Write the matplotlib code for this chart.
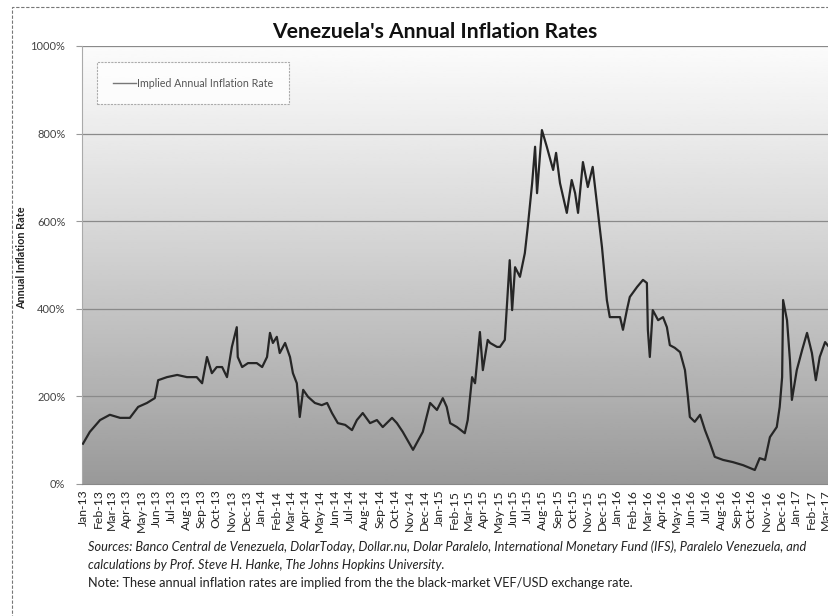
import numpy as np
import pandas as pd
import matplotlib
matplotlib.use("Agg")
import matplotlib.pyplot as plt
import matplotlib.dates as mdates
from matplotlib.patches import Rectangle
from matplotlib.ticker import FuncFormatter, FixedLocator

dates = [
    "2013-01-01", "2013-01-15", "2013-02-05", "2013-02-25", "2013-03-18", "2013-04-07",
    "2013-04-24", "2013-05-12", "2013-05-28", "2013-06-04", "2013-06-22", "2013-07-13",
    "2013-08-02", "2013-08-22", "2013-09-02", "2013-09-12", "2013-09-22", "2013-10-02",
    "2013-10-13", "2013-10-23", "2013-11-02", "2013-11-12", "2013-11-14", "2013-11-23",
    "2013-12-05", "2013-12-23", "2014-01-03", "2014-01-13", "2014-01-19", "2014-01-25",
    "2014-02-02", "2014-02-08", "2014-02-19", "2014-03-01", "2014-03-07", "2014-03-15",
    "2014-03-21", "2014-03-28", "2014-04-07", "2014-04-21", "2014-05-05", "2014-05-16",
    "2014-05-26", "2014-06-07", "2014-06-22", "2014-07-06", "2014-07-16", "2014-07-28",
    "2014-08-12", "2014-08-26", "2014-09-07", "2014-09-26", "2014-10-06", "2014-10-18",
    "2014-11-08", "2014-11-22", "2014-11-28", "2014-12-13", "2014-12-27", "2015-01-08",
    "2015-01-16", "2015-01-23", "2015-02-06", "2015-02-22", "2015-02-28", "2015-03-09",
    "2015-03-15", "2015-03-25", "2015-03-31", "2015-04-10", "2015-04-15", "2015-04-29",
    "2015-05-05", "2015-05-15", "2015-05-25", "2015-05-30", "2015-06-05", "2015-06-15",
    "2015-06-25", "2015-07-01", "2015-07-10", "2015-07-16", "2015-07-20", "2015-07-30",
    "2015-08-09", "2015-08-22", "2015-08-28", "2015-09-05", "2015-09-19", "2015-09-29",
    "2015-10-06", "2015-10-12", "2015-10-22", "2015-11-01", "2015-11-11", "2015-11-22",
    "2015-11-30", "2015-12-10", "2015-12-16", "2015-12-31", "2016-01-06", "2016-01-12",
    "2016-01-20", "2016-01-26", "2016-02-10", "2016-02-22", "2016-03-01", "2016-03-03",
    "2016-03-07", "2016-03-13", "2016-03-24", "2016-04-03", "2016-04-11", "2016-04-17",
    "2016-04-27", "2016-05-08", "2016-05-18", "2016-05-24", "2016-05-28", "2016-06-07",
    "2016-06-18", "2016-06-28", "2016-07-08", "2016-07-18", "2016-08-04", "2016-08-24",
    "2016-09-14", "2016-10-08", "2016-10-18", "2016-10-29", "2016-11-08", "2016-11-22",
    "2016-11-28", "2016-12-03", "2016-12-05", "2016-12-13", "2016-12-19", "2016-12-23",
    "2017-01-02", "2017-01-13", "2017-01-23", "2017-02-02", "2017-02-10", "2017-02-18",
    "2017-03-01", "2017-03-09",
]
inflation = [
    92, 119, 146, 158, 151, 151,
    176, 185, 196, 237, 244, 249,
    244, 244, 230, 290, 253, 267,
    267, 244, 313, 358, 290, 267,
    276, 276, 267, 290, 345, 322,
    336, 299, 322, 290, 253, 230,
    153, 215, 199, 185, 180, 185,
    162, 139, 135, 123, 146, 162,
    139, 146, 130, 151, 139, 119,
    78, 107, 119, 185, 169, 196,
    176, 139, 130, 116, 146, 244,
    230, 347, 260, 329, 322, 313,
    313, 329, 511, 397, 495, 473,
    527, 587, 687, 770, 664, 808,
    770, 717, 756, 687, 619, 694,
    664, 619, 735, 678, 724, 619,
    541, 420, 381, 381, 381, 352,
    397, 427, 450, 466, 459, 352,
    290, 397, 374, 381, 358, 317,
    311, 301, 260, 199, 153, 142,
    158, 123, 94, 62, 55, 50,
    43, 32, 59, 55, 107, 130,
    176, 244, 420, 374, 283, 192,
    260, 306, 345, 299, 237, 290,
    324, 313,
]
series_label = "Implied Annual Inflation Rate"
title = "Venezuela's Annual Inflation Rates"
ylabel = "Annual Inflation Rate"
yticks = [0, 200, 400, 600, 800, 1000]
source_lines = [
    "Sources: Banco Central de Venezuela, DolarToday, Dollar.nu, Dolar Paralelo, International Monetary Fund (IFS), Paralelo Venezuela, and",
    "calculations by Prof. Steve H. Hanke, The Johns Hopkins University.",
]
note_line = "Note: These annual inflation rates are implied from the the black-market VEF/USD exchange rate."

plt.rcParams['font.family'] = ['Lato', 'DejaVu Sans']

W, H = 829, 616
fig = plt.figure(figsize=(W / 100, H / 100), dpi=100)
fig.patch.set_facecolor("white")

# outer dashed frame
fig.patches.append(Rectangle((12 / W, -0.05), 1.1, 1 - 7 / H + 0.05, transform=fig.transFigure,
                             fill=False, ec="#777777", lw=0.8, ls=(0, (3, 1.5))))

ax = fig.add_axes([82 / W, 1 - 484 / H, (W - 82) / W, (484 - 46) / H])
x = pd.to_datetime(dates)
xmin = pd.Timestamp("2012-12-30")
xmax = pd.Timestamp("2017-03-09")
ax.set_xlim(xmin, xmax)
ax.set_ylim(0, 1000)

# background gradient (light at top, darker at bottom)
grad = np.interp(np.linspace(0, 1, 200), [0, 0.2, 0.4, 0.6, 0.8, 1.0],
                 [0.60, 0.69, 0.77, 0.85, 0.92, 0.985])[:, None]
ax.imshow(grad, extent=[mdates.date2num(xmin), mdates.date2num(xmax), 0, 1000],
          aspect="auto", origin="lower", cmap="gray", vmin=0, vmax=1, zorder=0)

for v in yticks[1:]:
    ax.axhline(v, color="#8a8a8a", lw=0.9, zorder=1)

ax.plot(x, inflation, color="#262626", lw=1.6, zorder=3, label=series_label)

ax.yaxis.set_major_locator(FixedLocator(yticks))
ax.yaxis.set_major_formatter(FuncFormatter(lambda v, p: f"{int(v)}%"))
ax.tick_params(axis="y", length=4, width=0.8, color="#999999", labelsize=8,
               labelcolor="#444444", pad=8)
ax.xaxis.set_major_locator(mdates.MonthLocator())
ax.xaxis.set_major_formatter(mdates.DateFormatter("%b-%y"))
ax.tick_params(axis="x", length=0, labelsize=8.8, labelcolor="#222222", pad=4)
for lbl in ax.get_xticklabels():
    lbl.set_rotation(90)
for s in ["top", "right"]:
    ax.spines[s].set_visible(False)
ax.spines["left"].set_color("#aaaaaa")
ax.spines["left"].set_linewidth(0.8)
ax.spines["bottom"].set_color("#888888")
ax.spines["bottom"].set_linewidth(0.8)

ax.set_ylabel(ylabel, fontsize=7.8, fontweight="bold", color="#222222")
ax.yaxis.set_label_coords((27 - 82) / (W - 82), (484 - 258) / (484 - 46))

leg = ax.legend(loc="upper left", bbox_to_anchor=((97 - 82) / (W - 82), (484 - 62) / (484 - 46)),
                fontsize=7.7, frameon=True, fancybox=False, handlelength=2.2,
                handletextpad=0.1, borderpad=1.45, borderaxespad=0)
leg.get_frame().set_edgecolor("#999999")
leg.get_frame().set_linestyle((0, (2, 1)))
leg.get_frame().set_facecolor("white")
leg.get_frame().set_linewidth(0.8)
for t in leg.get_texts():
    t.set_color("#555555")
for l in leg.get_lines():
    l.set_linewidth(1.0)
    l.set_color("#777777")

fig.text(435 / W, 1 - 32 / H, title, ha="center", va="center", fontsize=15.2,
         fontweight="bold", color="#111111")

fs = 9.2
fig.text(88 / W, 1 - 547 / H, source_lines[0], ha="left", va="center", fontsize=fs,
         style="italic", color="#222222")
fig.text(88 / W, 1 - 565 / H, source_lines[1], ha="left", va="center", fontsize=fs,
         style="italic", color="#222222")
fig.text(88 / W, 1 - 583 / H, note_line, ha="left", va="center", fontsize=fs,
         color="#222222")

fig.savefig("out.png", dpi=100)
